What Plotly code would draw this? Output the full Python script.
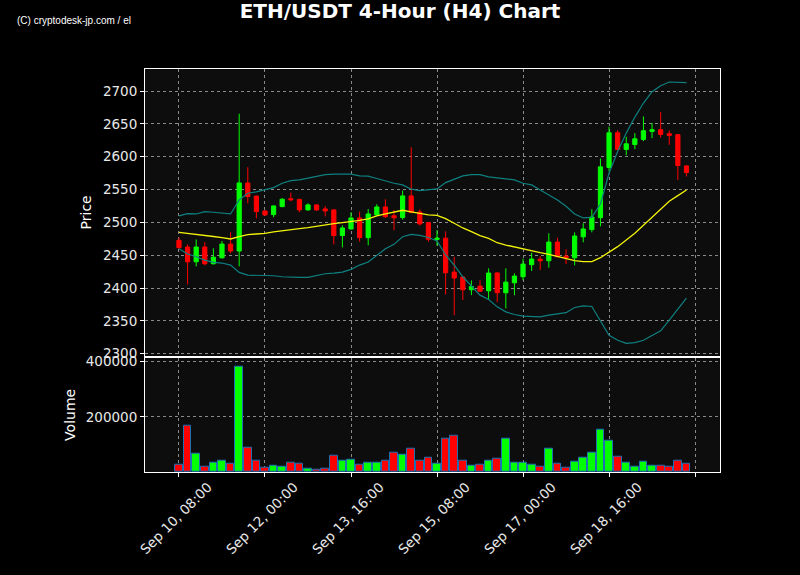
import pandas as pd
import plotly.graph_objects as go
from plotly.subplots import make_subplots

# ---------------- data ----------------
START = "2024-09-10 08:00"
N = 60

opens = [2472.6, 2462.5, 2440.0, 2462.5, 2437.0, 2446.0, 2467.0, 2456.4, 2560.0, 2540.0,
         2517.4, 2511.8, 2524.0, 2536.0, 2535.0, 2519.0, 2526.6, 2520.5, 2519.0, 2480.0,
         2490.0, 2506.7, 2476.7, 2511.3, 2523.5, 2510.0, 2507.3, 2540.3, 2515.9, 2499.6,
         2474.0, 2476.0, 2424.3, 2416.7, 2397.4, 2403.0, 2395.8, 2423.0, 2392.8, 2408.0,
         2417.2, 2435.5, 2444.0, 2441.6, 2470.0, 2448.7, 2446.0, 2478.0, 2489.0, 2507.2,
         2583.5, 2636.4, 2611.0, 2618.6, 2626.3, 2638.5, 2641.0, 2635.0, 2633.4, 2586.0]
highs = [2477.0, 2466.5, 2474.0, 2470.0, 2460.4, 2471.6, 2485.0, 2665.4, 2584.0, 2541.0,
         2518.0, 2526.0, 2537.0, 2545.4, 2536.0, 2529.0, 2527.5, 2525.0, 2520.0, 2495.5,
         2515.5, 2516.4, 2520.4, 2527.6, 2535.2, 2519.0, 2548.4, 2614.5, 2519.5, 2500.5,
         2488.4, 2486.4, 2447.7, 2418.0, 2411.6, 2412.0, 2430.0, 2424.5, 2430.0, 2422.3,
         2444.7, 2453.8, 2449.0, 2483.3, 2476.7, 2459.0, 2484.8, 2498.6, 2520.0, 2597.3,
         2645.6, 2640.0, 2630.3, 2636.0, 2661.3, 2651.2, 2668.0, 2640.0, 2634.0, 2587.0]
lows = [2460.0, 2405.5, 2433.0, 2434.5, 2436.0, 2445.0, 2453.0, 2433.0, 2529.0, 2506.0,
        2510.5, 2507.7, 2523.0, 2532.0, 2515.5, 2518.0, 2517.5, 2509.0, 2466.5, 2462.0,
        2489.0, 2470.6, 2465.0, 2510.0, 2506.7, 2488.0, 2504.0, 2514.0, 2495.0, 2470.6,
        2464.5, 2390.2, 2358.7, 2381.6, 2389.2, 2394.0, 2382.6, 2378.5, 2369.0, 2389.2,
        2412.0, 2426.0, 2427.4, 2431.0, 2447.0, 2436.5, 2434.5, 2469.6, 2484.8, 2494.0,
        2577.4, 2610.0, 2602.3, 2611.5, 2623.7, 2628.3, 2629.3, 2618.0, 2564.7, 2569.8]
closes = [2461.4, 2440.0, 2462.5, 2437.0, 2447.0, 2467.0, 2456.4, 2560.0, 2539.3, 2516.4,
          2511.3, 2525.0, 2535.2, 2534.5, 2519.0, 2526.6, 2519.0, 2517.4, 2479.8, 2491.5,
          2506.7, 2476.7, 2512.8, 2523.5, 2508.7, 2507.0, 2540.3, 2514.9, 2497.6, 2474.2,
          2476.0, 2423.3, 2415.2, 2397.4, 2402.4, 2395.3, 2422.8, 2392.8, 2409.0, 2418.2,
          2436.5, 2444.2, 2441.6, 2470.0, 2447.7, 2446.0, 2479.2, 2490.0, 2508.2, 2584.5,
          2636.4, 2611.0, 2619.6, 2627.3, 2639.5, 2641.0, 2633.9, 2632.4, 2586.6, 2575.9]
volumes = [27900, 167000, 67900, 20600, 35000, 42400, 31500, 380600, 89700, 42400,
           17000, 24200, 20600, 35000, 31500, 12100, 8500, 13300, 60600, 42400,
           46000, 27900, 35000, 35000, 42400, 71500, 64200, 86000, 42400, 53300,
           31500, 122400, 133300, 42400, 24200, 27900, 42400, 49700, 122400, 35000,
           35000, 27900, 20600, 86000, 31500, 17000, 38800, 53300, 71500, 155000,
           115000, 57000, 35000, 20600, 38800, 24200, 24200, 20600, 42400, 31500]
# Bollinger bands (20-period SMA +/- 2 sd)
bb_mid = [2484.8, 2483.5, 2482.0, 2480.8, 2478.5, 2476.7, 2474.7, 2478.2, 2481.3, 2482.3,
          2483.3, 2485.5, 2487.4, 2489.4, 2490.5, 2492.0, 2494.2, 2496.5, 2498.0, 2499.5,
          2501.0, 2503.0, 2505.2, 2509.8, 2512.8, 2515.5, 2518.4, 2515.9, 2513.8, 2511.3,
          2510.8, 2505.7, 2498.6, 2491.5, 2485.9, 2479.8, 2475.7, 2469.0, 2465.5, 2462.5,
          2458.9, 2456.9, 2453.8, 2451.3, 2448.2, 2445.0, 2441.6, 2440.1, 2440.1, 2446.2,
          2454.3, 2463.0, 2473.1, 2483.3, 2495.5, 2507.7, 2519.9, 2532.1, 2540.7, 2549.4]
bb_up = [2509.8, 2513.3, 2512.8, 2516.4, 2515.4, 2513.8, 2512.8, 2534.2, 2544.4, 2546.4,
         2549.4, 2553.0, 2559.6, 2563.5, 2564.7, 2567.8, 2570.8, 2572.8, 2573.3, 2573.3,
         2573.3, 2570.8, 2570.3, 2566.8, 2562.7, 2559.6, 2557.1, 2550.5, 2548.4, 2549.4,
         2551.0, 2560.6, 2565.8, 2570.8, 2572.8, 2572.8, 2569.3, 2567.8, 2566.8, 2564.7,
         2559.6, 2557.1, 2549.4, 2541.8, 2534.2, 2524.5, 2512.8, 2506.7, 2507.7, 2528.0,
         2574.8, 2607.9, 2635.9, 2660.3, 2681.7, 2699.0, 2708.1, 2713.7, 2713.7, 2712.7]
bb_low = [2459.9, 2451.8, 2447.7, 2442.6, 2439.1, 2438.1, 2435.0, 2423.8, 2419.7, 2419.7,
          2419.2, 2418.7, 2417.2, 2416.2, 2416.2, 2416.2, 2418.7, 2421.8, 2422.8, 2424.3,
          2428.4, 2435.0, 2439.6, 2450.3, 2459.9, 2466.5, 2478.2, 2481.8, 2480.3, 2477.0,
          2471.6, 2450.3, 2435.0, 2417.2, 2403.0, 2389.2, 2382.6, 2371.4, 2363.8, 2359.7,
          2357.2, 2356.1, 2356.1, 2358.7, 2360.2, 2362.5, 2370.4, 2372.9, 2371.9, 2351.0,
          2328.2, 2320.5, 2315.9, 2317.0, 2320.5, 2327.7, 2334.8, 2351.0, 2367.3, 2384.6]

TICK_STEP = 10  # one labelled tick every 10 candles (40 hours)
PRICE_TICKS = [2300, 2350, 2400, 2450, 2500, 2550, 2600, 2650, 2700]
VOLUME_TICKS = [200000, 400000]

# ---------------- styling ----------------
UP = "#00ff00"
DOWN = "#ff0000"
BG = "#000000"
PLOT_BG = "#0d0d0d"
GRID = "#8a8a8a"
FONT = "DejaVu Sans"

idx = list(range(N))
vol_colors = [UP if c >= o else DOWN for o, c in zip(opens, closes)]
tickvals = list(range(0, N + 1, TICK_STEP))
ticktext = [(pd.Timestamp(START) + pd.Timedelta(hours=4 * v)).strftime("%b %d, %H:%M")
            if v < N else "" for v in tickvals]

fig = make_subplots(rows=2, cols=1, shared_xaxes=True, vertical_spacing=0.005,
                    row_heights=[0.715, 0.285])

fig.add_trace(go.Scatter(x=idx, y=bb_up, mode="lines",
                         line=dict(color="#0e8080", width=1.2), hoverinfo="skip"), row=1, col=1)
fig.add_trace(go.Scatter(x=idx, y=bb_low, mode="lines",
                         line=dict(color="#0e8080", width=1.2), hoverinfo="skip"), row=1, col=1)
fig.add_trace(go.Scatter(x=idx, y=bb_mid, mode="lines",
                         line=dict(color="#f2f20a", width=1.3), hoverinfo="skip"), row=1, col=1)

fig.add_trace(go.Candlestick(
    x=idx, open=opens, high=highs, low=lows, close=closes,
    increasing=dict(line=dict(color=UP, width=1), fillcolor=UP),
    decreasing=dict(line=dict(color=DOWN, width=1), fillcolor=DOWN),
    whiskerwidth=0,
), row=1, col=1)

fig.add_trace(go.Bar(x=idx, y=volumes, width=0.9,
                     marker=dict(color=vol_colors, line=dict(color="#1f6fb4", width=1))),
              row=2, col=1)

axis_common = dict(showline=True, linecolor="white", linewidth=1, mirror=True,
                   showgrid=True, gridcolor=GRID, griddash="dot", gridwidth=1,
                   zeroline=False, ticks="outside", ticklen=4, tickcolor="white",
                   tickfont=dict(family=FONT, size=13.5, color="#e8e8e8"))

fig.update_xaxes(**axis_common, range=[-3.95, 62.9], tickvals=tickvals,
                 rangeslider_visible=False)
fig.update_xaxes(showticklabels=False, row=1, col=1)
fig.update_xaxes(ticktext=ticktext, tickangle=-45, ticklabelshift=29,
                 ticklabelstandoff=-3, row=2, col=1)

fig.update_yaxes(**axis_common)
fig.update_yaxes(range=[2297, 2733.5], tickvals=PRICE_TICKS,
                 title=dict(text="Price", font=dict(family=FONT, size=14, color="white"),
                            standoff=8), row=1, col=1)
fig.update_yaxes(range=[0, 414500], tickvals=VOLUME_TICKS, tickformat="d",
                 title=dict(text="Volume", font=dict(family=FONT, size=14, color="white"),
                            standoff=6), row=2, col=1)

W, H = 800, 575
fig.update_layout(
    width=W, height=H,
    paper_bgcolor=BG, plot_bgcolor=PLOT_BG,
    margin=dict(l=145, r=80, t=69, b=103, autoexpand=False),
    showlegend=False,
    bargap=0,
    title=dict(text="<b>ETH/USDT 4-Hour (H4) Chart</b>", x=0.5, xanchor="center",
               y=1 - 11 / H, yanchor="middle", yref="container",
               font=dict(family=FONT, size=20, color="white")),
    annotations=[dict(text="(C) cryptodesk-jp.com / el", xref="paper", yref="paper",
                      x=(15 - 145) / 575, y=(472 - 21) / 403, xanchor="left", yanchor="middle",
                      showarrow=False,
                      font=dict(family="Liberation Sans Narrow, Liberation Sans", size=10,
                                color="white"))],
)

fig.write_html("out.html", config={"displayModeBar": False},
               post_script="document.body.style.margin='0';document.body.style.background='#000';")
